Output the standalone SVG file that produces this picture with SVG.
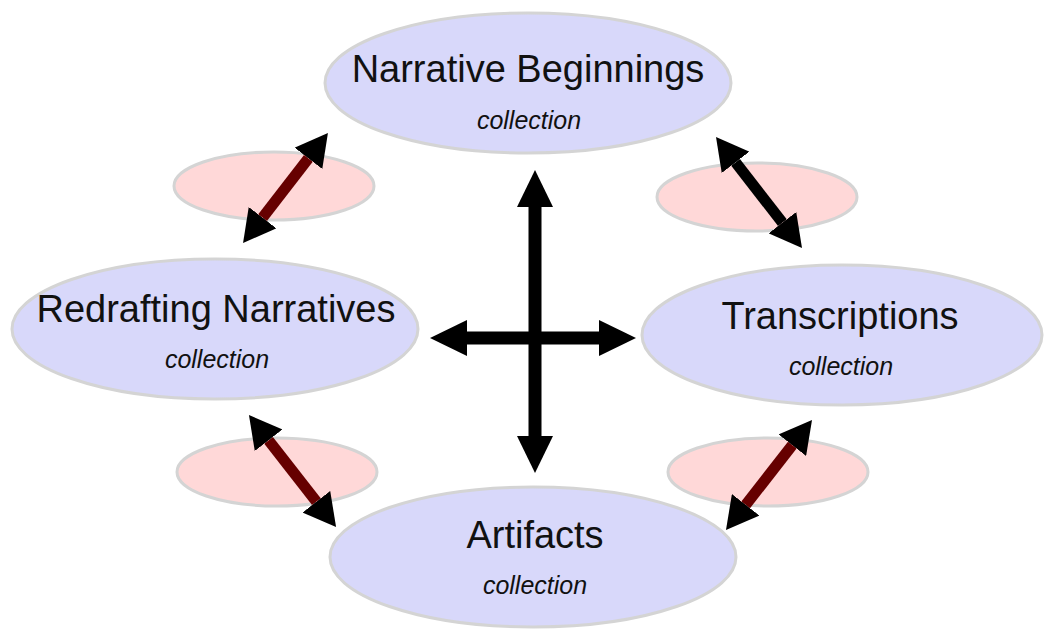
<svg xmlns="http://www.w3.org/2000/svg" width="1045" height="635" viewBox="0 0 1045 635">
<style>
.main{fill:#d8d8fa;stroke:#d4d4d4;stroke-width:3}
.link{fill:#ffd8d8;stroke:#d4d4d4;stroke-width:3}
.t{font-family:"Liberation Sans",Arial,sans-serif;font-size:38px;fill:#111;text-anchor:middle}
.s{font-family:"Liberation Sans",Arial,sans-serif;font-size:25px;font-style:italic;fill:#111;text-anchor:middle}
.red{stroke:#660000;stroke-width:11;fill:none;marker-start:url(#hd);marker-end:url(#hd)}
.blk{stroke:#000;stroke-width:11;fill:none;marker-start:url(#hd);marker-end:url(#hd)}
.cross{stroke:#000;stroke-width:13;fill:none;marker-start:url(#hc);marker-end:url(#hc)}
</style>
<defs>
<marker id="hd" markerUnits="userSpaceOnUse" viewBox="0 0 32 35" refX="0" refY="17.5" markerWidth="32" markerHeight="35" orient="auto-start-reverse"><path d="M0,0 L32,17.5 L0,35 z" fill="#000"/></marker>
<marker id="hc" markerUnits="userSpaceOnUse" viewBox="0 0 37 36" refX="0" refY="18" markerWidth="37" markerHeight="36" orient="auto-start-reverse"><path d="M0,0 L37,18 L0,36 z" fill="#000"/></marker>
</defs>
<g id="link-tl"><ellipse class="link" cx="274" cy="186" rx="100" ry="34"/></g>
<g id="link-tr"><ellipse class="link" cx="757" cy="197" rx="100" ry="34"/></g>
<g id="link-bl"><ellipse class="link" cx="277" cy="472" rx="100" ry="34"/></g>
<g id="link-br"><ellipse class="link" cx="768" cy="472" rx="100" ry="34"/></g>
<g id="narrative-beginnings"><ellipse class="main" cx="528" cy="83" rx="203" ry="70"/><text class="t" x="528" y="82">Narrative Beginnings</text><text class="s" x="529" y="129">collection</text></g>
<g id="redrafting-narratives"><ellipse class="main" cx="215" cy="329" rx="203" ry="70"/><text class="t" x="216" y="322">Redrafting Narratives</text><text class="s" x="217" y="368">collection</text></g>
<g id="transcriptions"><ellipse class="main" cx="842" cy="335" rx="200" ry="70"/><text class="t" x="840" y="329">Transcriptions</text><text class="s" x="841" y="375">collection</text></g>
<g id="artifacts"><ellipse class="main" cx="533" cy="557" rx="203" ry="70"/><text class="t" x="535" y="548">Artifacts</text><text class="s" x="535" y="594">collection</text></g>
<g id="connectors">
<line class="red" x1="308.4" y1="158.3" x2="262.6" y2="217.7"/>
<line class="blk" x1="735.6" y1="162.3" x2="782.4" y2="222.7"/>
<line class="red" x1="268.6" y1="440.3" x2="316.4" y2="501.7"/>
<line class="red" x1="792.3" y1="445.2" x2="745.7" y2="504.8"/>
<line class="cross" x1="535" y1="207" x2="535" y2="436"/>
<line class="cross" x1="467" y1="338" x2="599" y2="338"/>
</g>
</svg>
